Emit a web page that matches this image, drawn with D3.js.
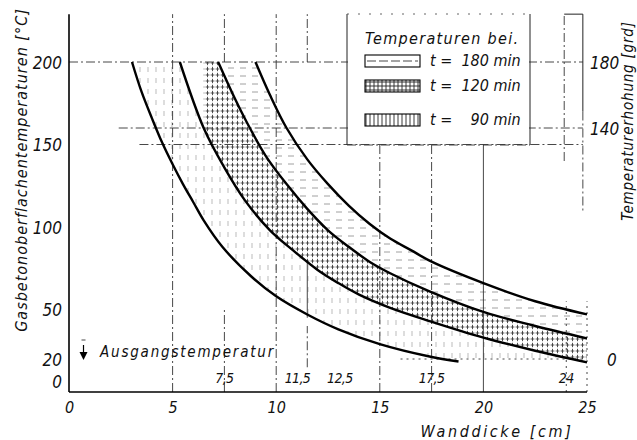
<!DOCTYPE html>
<html><head><meta charset="utf-8">
<script src="https://cdn.jsdelivr.net/npm/d3@7"></script>
<style>
body{margin:0;background:#fff;}
text{font-family:"Liberation Sans Narrow","DejaVu Sans Condensed","Roboto Condensed",sans-serif;font-style:italic;fill:#111;}
</style></head><body>
<svg id="c" width="637" height="440"></svg>
<script>
// ---- data ----
const xTicks = [0, 5, 10, 15, 20, 25];
const yTicks = [0, 20, 50, 100, 150, 200];
const rightTicks = [0, 140, 180];
const markThick = [7.5, 11.5, 12.5, 17.5, 24];
const markLabels = ["7,5", "11,5", "12,5", "17,5", "24"];
const startTemp = 20;
const legendTimes = ["t =  180 min", "t =  120 min", "t =    90 min"];
// boundary curves [Wanddicke cm, Temperatur °C]
const curveA = [[3.04,200],[3.5,182],[4.0,166],[4.5,151],[5.0,138],[5.5,126],[6.0,115],[6.5,104],[7.4,88],[8.8,70],[10.0,58],[11.5,47],[13.0,38],[15.0,29],[17.4,21.5],[18.8,18.5]];
const curveB = [[5.35,200],[6.5,160],[7.5,136],[8.5,116],[9.7,98],[10.8,86],[12.0,74],[13.0,66],[14.0,59],[15.5,51],[17.4,43],[20,33],[22.5,25],[25,18]];
const curveC = [[7.2,200],[8.0,178],[8.6,163],[9.5,143],[10.5,126],[11.5,111],[12.5,98],[13.5,88],[14.5,79],[15.5,72],[17.4,61],[20,48.5],[22.5,40],[25,32.5]];
const curveD = [[9.0,200],[9.7,180],[10.5,160],[11.5,141],[12.5,126],[13.5,113],[14.5,102],[15.5,93],[16.5,86],[17.5,79],[20,66],[22.5,55],[25,47]];
const hatch120From = 6.5;
// reference lines: [value, from, to, style]
const vRefs = [[5,0,229,"dd"],[7.5,0,50,"dd"],[7.5,200,229,"dd"],[10,0,229,"dd"],[11.5,45,80,"s"],[11.5,200,229,"dd"],[11.5,15,40,"dd"],[15,0,150,"dd"],[17.5,0,150,"dd"],[20,0,150,"s"],[24,0,55,"dot"],[25,0,55,"dot"],[23.9,140,229,"dd"]];
const hRefs = [[200,0,24.8,"dd"],[160,2.4,24.8,"dd"],[150,3.4,24.8,"dd"],[20,16,25,"dot"]];
const rightAxisAt = 24.8;

// ---- scales ----
const svg = d3.select("#c");
const x = d3.scaleLinear([0, 25], [69, 587]);
const y = d3.scaleLinear([0, 200], [392, 62]);
const yR = d3.scaleLinear([-20, 180], [392, 62]);

// ---- patterns ----
const defs = svg.append("defs");
function pat(id, w, h, lines, col, sw) {
  const p = defs.append("pattern").attr("id", id).attr("patternUnits","userSpaceOnUse").attr("width", w).attr("height", h);
  lines.forEach(l => p.append("line").attr("x1",l[0]).attr("y1",l[1]).attr("x2",l[2]).attr("y2",l[3]).attr("stroke",col).attr("stroke-width",sw));
}
pat("p180", 12, 8, [[0,4,6,4]], "#888", 0.8);
pat("p120", 5, 6, [[0.6,3,4.4,3],[2.5,0.8,2.5,5.2]], "#333", 0.85);
pat("p90", 8, 11, [[4,1,4,6]], "#aaa", 0.8);
pat("p90L", 4, 12, [[2,0,2,12]], "#222", 0.9);
pat("p120L", 4, 4, [[0,2,4,2],[2,0,2,4]], "#222", 0.9);
defs.append("clipPath").attr("id","clip120").append("rect")
  .attr("x", x(hatch120From)).attr("y", 0).attr("width", 637 - x(hatch120From)).attr("height", 440);

// ---- bands ----
const line = d3.line().x(d => x(d[0])).y(d => y(d[1])).curve(d3.curveCatmullRom.alpha(0.5));
const band = (a, b) => line(a) + line(b.slice().reverse()).replace("M", "L") + "Z";
svg.append("path").attr("d", band(curveB, curveA)).attr("fill", "url(#p90)");
svg.append("path").attr("d", band(curveC, curveB)).attr("fill", "url(#p120)").attr("clip-path","url(#clip120)");
svg.append("path").attr("d", band(curveD, curveC)).attr("fill", "url(#p180)");

// ---- reference lines ----
const dash = {dd:"9,3,2,3", s:null, dot:"2,4"};
svg.append("g").selectAll("line").data(vRefs).join("line")
  .attr("x1", d => x(d[0])).attr("x2", d => x(d[0]))
  .attr("y1", d => y(d[1])).attr("y2", d => y(d[2]))
  .attr("stroke", "#333").attr("stroke-width", 0.9)
  .attr("stroke-dasharray", d => dash[d[3]]);
svg.append("g").selectAll("line").data(hRefs).join("line")
  .attr("x1", d => x(d[1])).attr("x2", d => x(d[2]))
  .attr("y1", d => y(d[0])).attr("y2", d => y(d[0]))
  .attr("stroke", "#333").attr("stroke-width", 0.9)
  .attr("stroke-dasharray", d => dash[d[3]]);
// right axis line
svg.append("line").attr("x1", x(rightAxisAt)).attr("x2", x(rightAxisAt)).attr("y1", y(229)).attr("y2", y(170)).attr("stroke","#222").attr("stroke-width",1);
svg.append("line").attr("x1", x(rightAxisAt)).attr("x2", x(rightAxisAt)).attr("y1", y(170)).attr("y2", y(110)).attr("stroke","#333").attr("stroke-width",0.9).attr("stroke-dasharray","9,3,2,3");
svg.append("line").attr("x1", x(23.9)).attr("x2", x(rightAxisAt)).attr("y1", y(229)).attr("y2", y(229)).attr("stroke","#222").attr("stroke-width",1);

// ---- curves ----
[curveA, curveB, curveC, curveD].forEach(c => {
  svg.append("path").attr("d", line(c)).attr("fill","none").attr("stroke","#000").attr("stroke-width",2.4);
});

// ---- axes ----
svg.append("line").attr("x1", x(0)).attr("x2", x(0)).attr("y1", y(229)).attr("y2", y(0)).attr("stroke","#000").attr("stroke-width",1.6);
svg.append("line").attr("x1", x(0)).attr("x2", x(25)).attr("y1", y(0)).attr("y2", y(0)).attr("stroke","#000").attr("stroke-width",1.6);

const gx = svg.append("g").attr("transform", `translate(0,${y(0)})`)
  .call(d3.axisBottom(x).tickValues(xTicks).tickSize(0).tickPadding(10).tickFormat(d3.format("d")));
gx.select(".domain").remove();
gx.selectAll("text").attr("font-size", 16).attr("font-family", null);

const gy = svg.append("g").attr("transform", `translate(${x(0) - 7},0)`)
  .call(d3.axisLeft(y).tickValues(yTicks).tickSize(0).tickPadding(0).tickFormat(d3.format("d")));
gy.select(".domain").remove();
gy.selectAll("text").attr("font-size", 17).attr("font-family", null)
  .attr("dy", d => d === 0 ? "-0.28em" : "0.36em");

const gr = svg.append("g").attr("transform", `translate(${x(25) + 3},0)`)
  .call(d3.axisRight(yR).tickValues(rightTicks).tickSize(0).tickPadding(0).tickFormat(d3.format("d")));
gr.select(".domain").remove();
gr.selectAll("text").attr("font-size", 17).attr("font-family", null)
  .attr("dx", d => d === 0 ? "1em" : "0").attr("dy", "0.36em");

// thickness marks (the two close ones are set apart, as in the original)
svg.append("g").selectAll("text").data(markThick).join("text")
  .attr("x", d => x(d) + (d === 11.5 ? 3 : d === 12.5 ? -1 : 0)).attr("y", y(0) - 9)
  .attr("text-anchor", d => d === 11.5 ? "end" : d === 12.5 ? "start" : "middle")
  .attr("font-size", 14).attr("letter-spacing", -0.6)
  .text((d, i) => markLabels[i]);

// axis titles
svg.append("text").attr("transform", `translate(27,170) rotate(-90)`)
  .attr("text-anchor","middle").attr("font-size",16).attr("letter-spacing",1)
  .text("Gasbetonoberflachentemperaturen [°C]");
svg.append("text").attr("transform", `translate(633,121) rotate(-90)`)
  .attr("text-anchor","middle").attr("font-size",15).attr("letter-spacing",0.8)
  .text("Temperaturerhohung [grd]");
svg.append("text").attr("x", 497).attr("y", 437)
  .attr("text-anchor","middle").attr("font-size",16).attr("letter-spacing",2.6)
  .text("Wanddicke  [cm]");

// Ausgangstemperatur
svg.append("text").attr("x", 100).attr("y", 357).attr("font-size",15).attr("letter-spacing",1.8)
  .text("Ausgangstemperatur");
const ax = x(0.7);
svg.append("line").attr("x1", ax).attr("x2", ax).attr("y1", y(startTemp) - 14).attr("y2", y(startTemp) - 5).attr("stroke","#000").attr("stroke-width",1.2);
svg.append("path").attr("d", `M${ax-4},${y(startTemp)-7}L${ax+4},${y(startTemp)-7}L${ax},${y(startTemp)+1}Z`).attr("fill","#000");
svg.append("line").attr("x1", ax-2).attr("x2", ax+2).attr("y1", y(startTemp) - 19).attr("y2", y(startTemp) - 19).attr("stroke","#333").attr("stroke-width",0.9);

// ---- legend ----
const lg = svg.append("g");
lg.append("rect").attr("x",348).attr("y",15).attr("width",181).attr("height",129).attr("fill","#fff");
lg.append("line").attr("x1",347).attr("x2",347).attr("y1",14).attr("y2",145).attr("stroke","#222").attr("stroke-width",1);
lg.append("line").attr("x1",530).attr("x2",530).attr("y1",14).attr("y2",145).attr("stroke","#222").attr("stroke-width",1);
lg.append("line").attr("x1",347).attr("x2",530).attr("y1",145).attr("y2",145).attr("stroke","#333").attr("stroke-width",0.9).attr("stroke-dasharray","9,3,2,3");
lg.append("line").attr("x1",347).attr("x2",530).attr("y1",14).attr("y2",14).attr("stroke","#555").attr("stroke-width",0.9).attr("stroke-dasharray","2,9");
lg.append("text").attr("x",365).attr("y",44).attr("font-size",16).attr("letter-spacing",1.3).text("Temperaturen bei.");
const sw = [{y:55, fill:"#fff"}, {y:80, fill:"url(#p120L)"}, {y:114, fill:"url(#p90L)"}];
sw.forEach((s, i) => {
  lg.append("rect").attr("x",365).attr("y",s.y).attr("width",55).attr("height",12)
    .attr("fill",s.fill).attr("stroke","#000").attr("stroke-width",1.1);
  lg.append("text").attr("x",430).attr("y",s.y + 11).attr("font-size",16)
    .style("white-space","pre").text(legendTimes[i]);
});
lg.append("line").attr("x1",367).attr("x2",418).attr("y1",61).attr("y2",61).attr("stroke","#333").attr("stroke-width",0.9).attr("stroke-dasharray","9,3");
</script>
</body></html>
